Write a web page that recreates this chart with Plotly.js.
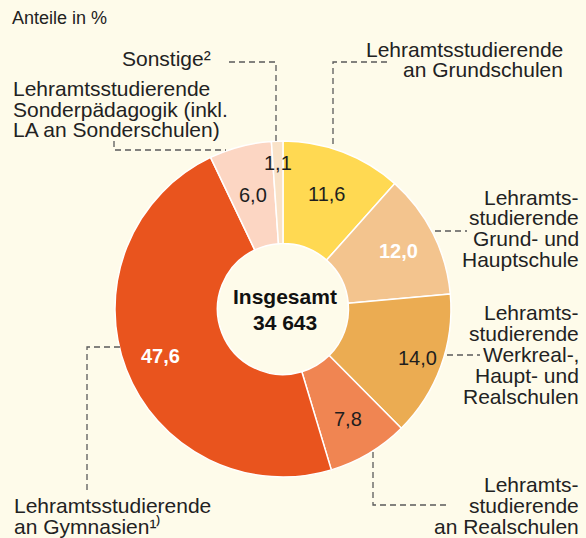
<!DOCTYPE html>
<html>
<head>
<meta charset="utf-8">
<script src="https://cdn.plot.ly/plotly-3.0.1.min.js"></script>
<style>html,body{margin:0;padding:0;background:#FEFBEA;}#chart{width:586px;height:538px;}</style>
</head>
<body>
<div id="chart"></div>
<script>
// ---- data ----
var categories = [
  "Lehramtsstudierende an Grundschulen",
  "Lehramtsstudierende Grund- und Hauptschule",
  "Lehramtsstudierende Werkreal-, Haupt- und Realschulen",
  "Lehramtsstudierende an Realschulen",
  "Lehramtsstudierende an Gymnasien",
  "Lehramtsstudierende Sonderpädagogik (inkl. LA an Sonderschulen)",
  "Sonstige"
];
var shares = [11.6, 12.0, 14.0, 7.8, 47.6, 6.0, 1.1];
var shareLabels = ["11,6", "12,0", "14,0", "7,8", "47,6", "6,0", "1,1"];
var totalLabel = ["Insgesamt", "34 643"];
var unitLabel = "Anteile in %";

// ---- style ----
var W = 586, H = 538;
var colors = ["#FFD952", "#F3C48E", "#EBAC52", "#F08552", "#E9541E", "#FCD6C3", "#F9E2C8"];
var valueColors = ["#1e1e1e", "#ffffff", "#1e1e1e", "#1e1e1e", "#ffffff", "#1e1e1e", "#1e1e1e"];
var valueBold = [false, true, false, false, true, false, false];
var valueRadius = [0.73, 0.77, 0.85, 0.76, 0.78, 0.70, 0.87];
var domain = {x: [0.1962, 0.7696], y: [0.1134, 0.7379]};
var FONT = "Liberation Sans, Arial, sans-serif";
var TXT = "#222222";
var LINE = "#5a5a5a";

function px(x) { return x / W; }
function py(y) { return 1 - y / H; }

var annotations = [];
function label(text, x, y, anchor, size, color, bold) {
  annotations.push({
    xref: "paper", yref: "paper", x: px(x), y: py(y),
    xanchor: anchor, yanchor: "middle", showarrow: false,
    text: bold ? "<b>" + text + "</b>" : text,
    font: {family: FONT, size: size || 21, color: color || TXT}
  });
}
function block(lines, x, yStart, pitch, anchor) {
  lines.forEach(function (t, i) { label(t, x, yStart + i * pitch, anchor); });
}

// category labels (outside)
label(unitLabel, 10, 18, "left", 18);
label("Sonstige²", 213, 59, "right");
block(["Lehramtsstudierende", "Sonderpädagogik (inkl.", "LA an Sonderschulen)"], 11, 88.5, 20.7, "left");
block(["Lehramtsstudierende", "an Grundschulen"], 565, 49, 20.5, "right");
block(["Lehramts-", "studierende", "Grund- und", "Hauptschule"], 581, 197, 20.8, "right");
block(["Lehramts-", "studierende", "Werkreal-,", "Haupt- und", "Realschulen"], 581, 312, 21, "right");
block(["Lehramts-", "studierende", "an Realschulen"], 581, 484, 21, "right");
block(["Lehramtsstudierende", "an Gymnasien¹⁾"], 12, 505, 21, "left");

// center total
label(totalLabel[0], 285, 297, "center", 21, "#111111", true);
label(totalLabel[1], 285, 322, "center", 21, "#111111", true);

// value labels placed from the slice angles
var cx = (domain.x[0] + domain.x[1]) / 2 * W;
var cy = (1 - (domain.y[0] + domain.y[1]) / 2) * H;
var R = Math.min((domain.x[1] - domain.x[0]) * W, (domain.y[1] - domain.y[0]) * H) / 2;
var sum = shares.reduce(function (a, b) { return a + b; }, 0);
var cum = 0;
shares.forEach(function (v, i) {
  var mid = (cum + v / 2) / sum * 2 * Math.PI;
  cum += v;
  var r = valueRadius[i] * R;
  label(shareLabels[i], cx + r * Math.sin(mid), cy - r * Math.cos(mid), "center", 20, valueColors[i], valueBold[i]);
});

// leader lines
function path(pts) {
  var d = pts.map(function (p, i) { return (i ? "L" : "M") + px(p[0]) + "," + py(p[1]); }).join(" ");
  return {type: "path", xref: "paper", yref: "paper", path: d,
    line: {color: LINE, width: 1.3, dash: "6px,4px"}};
}
var shapes = [
  path([[229, 62], [276, 62], [276, 145]]),
  path([[114, 141], [114, 150], [226, 150]]),
  path([[387, 62], [333, 62], [333, 148]]),
  path([[435, 231], [467, 231]]),
  path([[447, 355], [480, 355]]),
  path([[373, 452], [373, 505], [450, 505]]),
  path([[120, 347], [87, 347], [87, 490]])
];

var trace = {
  type: "pie",
  labels: categories,
  values: shares,
  sort: false,
  direction: "clockwise",
  rotation: 0,
  hole: 0.39,
  textinfo: "none",
  hoverinfo: "skip",
  marker: {colors: colors, line: {color: "#ffffff", width: 1.5}},
  domain: domain
};

var layout = {
  width: W, height: H,
  margin: {l: 0, r: 0, t: 0, b: 0},
  paper_bgcolor: "#FEFBEA",
  plot_bgcolor: "#FEFBEA",
  showlegend: false,
  annotations: annotations,
  shapes: shapes
};

Plotly.newPlot("chart", [trace], layout, {displayModeBar: false, staticPlot: true});
</script>
</body>
</html>
